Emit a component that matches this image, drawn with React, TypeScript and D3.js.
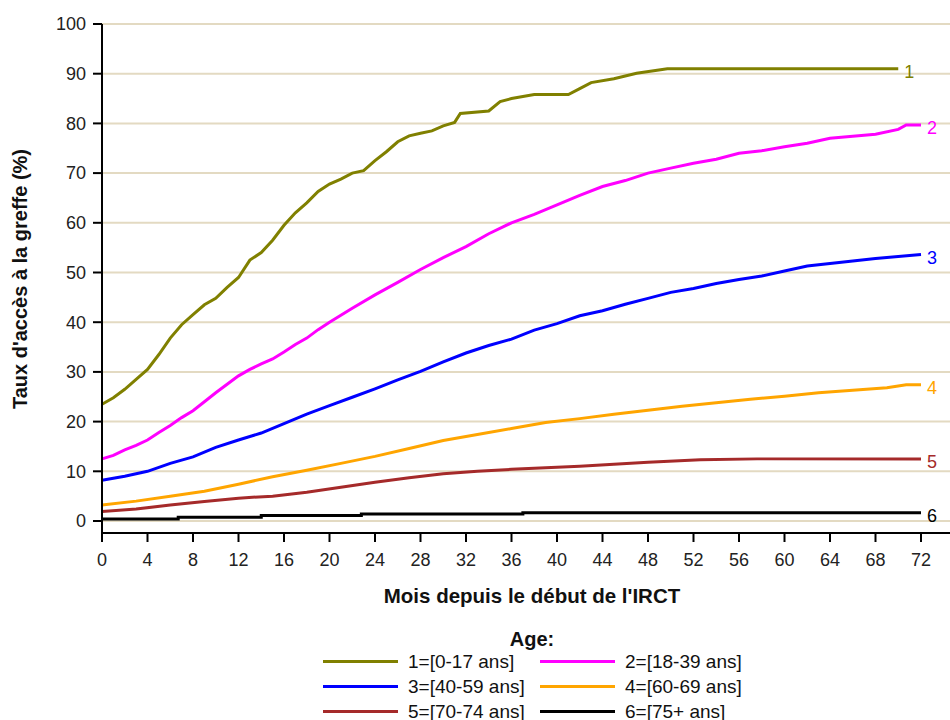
import React from "react";
import * as d3 from "d3";

const xTicks = [0, 4, 8, 12, 16, 20, 24, 28, 32, 36, 40, 44, 48, 52, 56, 60, 64, 68, 72];
const yTicks = [0, 10, 20, 30, 40, 50, 60, 70, 80, 90, 100];

const s1Months = [0,1,2,3,4,5,6,7,8,9,10,11,12,13,14,15,16,17,18,19,20,21,22,23,24,25,26,27,28,29,30,31,31.5,34,35,36,38,41,42,43,45,47,49.7,70];
const s1Values = [23.5,24.8,26.5,28.5,30.5,33.5,36.8,39.5,41.5,43.5,44.8,47,49,52.5,54,56.5,59.5,62,64,66.3,67.8,68.8,70,70.5,72.5,74.3,76.3,77.5,78,78.5,79.5,80.2,82,82.5,84.4,85,85.8,85.8,87,88.2,89,90.1,91,91];

const s2Months = [0,1,2,3,4,5,6,7,8,9,10,11,12,13,14,15,16,17,18,19,20,22,24,26,28,30,32,34,36,38,40,42,44,46,48,50,52,54,56,58,60,62,64,66,68,70,70.7,72];
const s2Values = [12.5,13.2,14.3,15.2,16.3,17.8,19.2,20.8,22.2,24,25.8,27.5,29.2,30.5,31.6,32.6,34,35.5,36.8,38.5,40,42.8,45.5,48,50.6,53,55.2,57.8,60,61.7,63.6,65.5,67.3,68.5,70,71,72,72.8,74,74.5,75.3,76,77,77.4,77.8,78.8,79.7,79.7];

const s3Months = [0,2,4,6,8,10,12,14,16,18,20,22,24,26,28,30,32,34,36,38,40,42,44,46,48,50,52,54,56,58,60,62,64,66,68,70,72];
const s3Values = [8.2,9,10,11.6,12.9,14.8,16.3,17.7,19.6,21.5,23.2,24.9,26.6,28.4,30.1,32,33.8,35.3,36.6,38.4,39.7,41.3,42.3,43.6,44.8,46,46.8,47.8,48.6,49.3,50.3,51.3,51.8,52.3,52.8,53.2,53.6];

const s4Months = [0,3,6,9,12,15,18,21,24,27,30,33,36,39,42,45,48,51,54,57,60,63,66,69,70.7,72];
const s4Values = [3.2,4.0,5.0,6.0,7.4,8.9,10.2,11.6,13,14.6,16.2,17.4,18.6,19.8,20.6,21.5,22.3,23.1,23.8,24.5,25.1,25.8,26.3,26.8,27.4,27.4];

const s5Months = [0,3,6,9,12,15,18,21,24,27,30,33,36,39,42,45,48,52.6,57.6,72];
const s5Values = [1.9,2.4,3.2,3.9,4.6,5.0,5.8,6.8,7.8,8.7,9.5,10.0,10.4,10.7,11.0,11.4,11.8,12.3,12.5,12.5];

const s6Months = [0,6.7,14,22.8,37,72];
const s6Values = [0.4,0.75,1.1,1.4,1.65,1.65];

const seriesIds = ["1", "2", "3", "4", "5", "6"];
const seriesNames = ["1=[0-17 ans]", "2=[18-39 ans]", "3=[40-59 ans]", "4=[60-69 ans]", "5=[70-74 ans]", "6=[75+ ans]"];
const seriesColors = ["#808000", "#ff00ff", "#0000ff", "#ffa500", "#a52a2a", "#000000"];
const seriesMonths = [s1Months, s2Months, s3Months, s4Months, s5Months, s6Months];
const seriesValues = [s1Values, s2Values, s3Values, s4Values, s5Values, s6Values];

const FONT = "'Liberation Sans', Arial, sans-serif";

export default function App() {
  const W = 950, H = 720;
  const x = d3.scaleLinear().domain([0, 72]).range([102, 921]);
  const y = d3.scaleLinear().domain([0, 100]).range([521, 24]);
  const axisY = 533;
  const right = 950;

  const series = seriesIds.map((id, i) => ({
    id,
    name: seriesNames[i],
    color: seriesColors[i],
    pts: seriesMonths[i].map((m, j) => [m, seriesValues[i][j]] as [number, number]),
    step: i === 5,
  }));

  const lineLinear = d3.line<[number, number]>().x(d => x(d[0])).y(d => y(d[1]));
  const lineStep = d3.line<[number, number]>().x(d => x(d[0])).y(d => y(d[1])).curve(d3.curveStepAfter);

  return (
    <svg width={W} height={H} style={{ position: "absolute", left: 0, top: 0, background: "#fff" }} fontFamily={FONT}>
      <rect width={W} height={H} fill="#fff" />
      {yTicks.map(t => (
        <line key={"g" + t} x1={102} x2={right} y1={y(t)} y2={y(t)} stroke="#e3dac2" strokeWidth={2} />
      ))}
      {series.map(s => (
        <path key={s.id} d={(s.step ? lineStep : lineLinear)(s.pts) || ""} fill="none" stroke={s.color} strokeWidth={3} strokeLinejoin="miter" />
      ))}
      {series.map(s => {
        const last = s.pts[s.pts.length - 1];
        return (
          <text key={"l" + s.id} x={x(last[0]) + 6} y={y(last[1]) + 3} dy="0.35em" fill={s.color} fontSize={18}>{s.id}</text>
        );
      })}
      {/* axes */}
      <line x1={102} x2={102} y1={24} y2={axisY} stroke="#000" strokeWidth={2} />
      <line x1={102} x2={right} y1={axisY} y2={axisY} stroke="#000" strokeWidth={2} />
      {yTicks.map(t => (
        <g key={"yt" + t}>
          <line x1={93} x2={102} y1={y(t)} y2={y(t)} stroke="#000" strokeWidth={2} />
          <text x={86} y={y(t)} dy="0.35em" textAnchor="end" fontSize={18} fill="#222">{t}</text>
        </g>
      ))}
      {xTicks.map(t => (
        <g key={"xt" + t}>
          <line x1={x(t)} x2={x(t)} y1={axisY} y2={axisY + 9} stroke="#000" strokeWidth={2} />
          <text x={x(t)} y={566} textAnchor="middle" fontSize={18} fill="#222">{t}</text>
        </g>
      ))}
      <text x={532} y={603} textAnchor="middle" fontSize={20.5} fontWeight="bold" fill="#111">Mois depuis le début de l'IRCT</text>
      <text transform="translate(27,279) rotate(-90)" textAnchor="middle" fontSize={20} fontWeight="bold" fill="#111">Taux d'accès à la greffe (%)</text>
      <text x={532} y={646} textAnchor="middle" fontSize={20} fontWeight="bold" fill="#111">Age:</text>
      {series.map((s, i) => {
        const col = i % 2;
        const row = Math.floor(i / 2);
        const lx = col === 0 ? 323 : 540;
        const ly = 661.5 + row * 25;
        return (
          <g key={"lg" + s.id}>
            <line x1={lx} x2={lx + 75} y1={ly} y2={ly} stroke={s.color} strokeWidth={3} />
            <text x={lx + 85} y={ly} dy="0.35em" fontSize={19} fill="#111">{s.name}</text>
          </g>
        );
      })}
    </svg>
  );
}
